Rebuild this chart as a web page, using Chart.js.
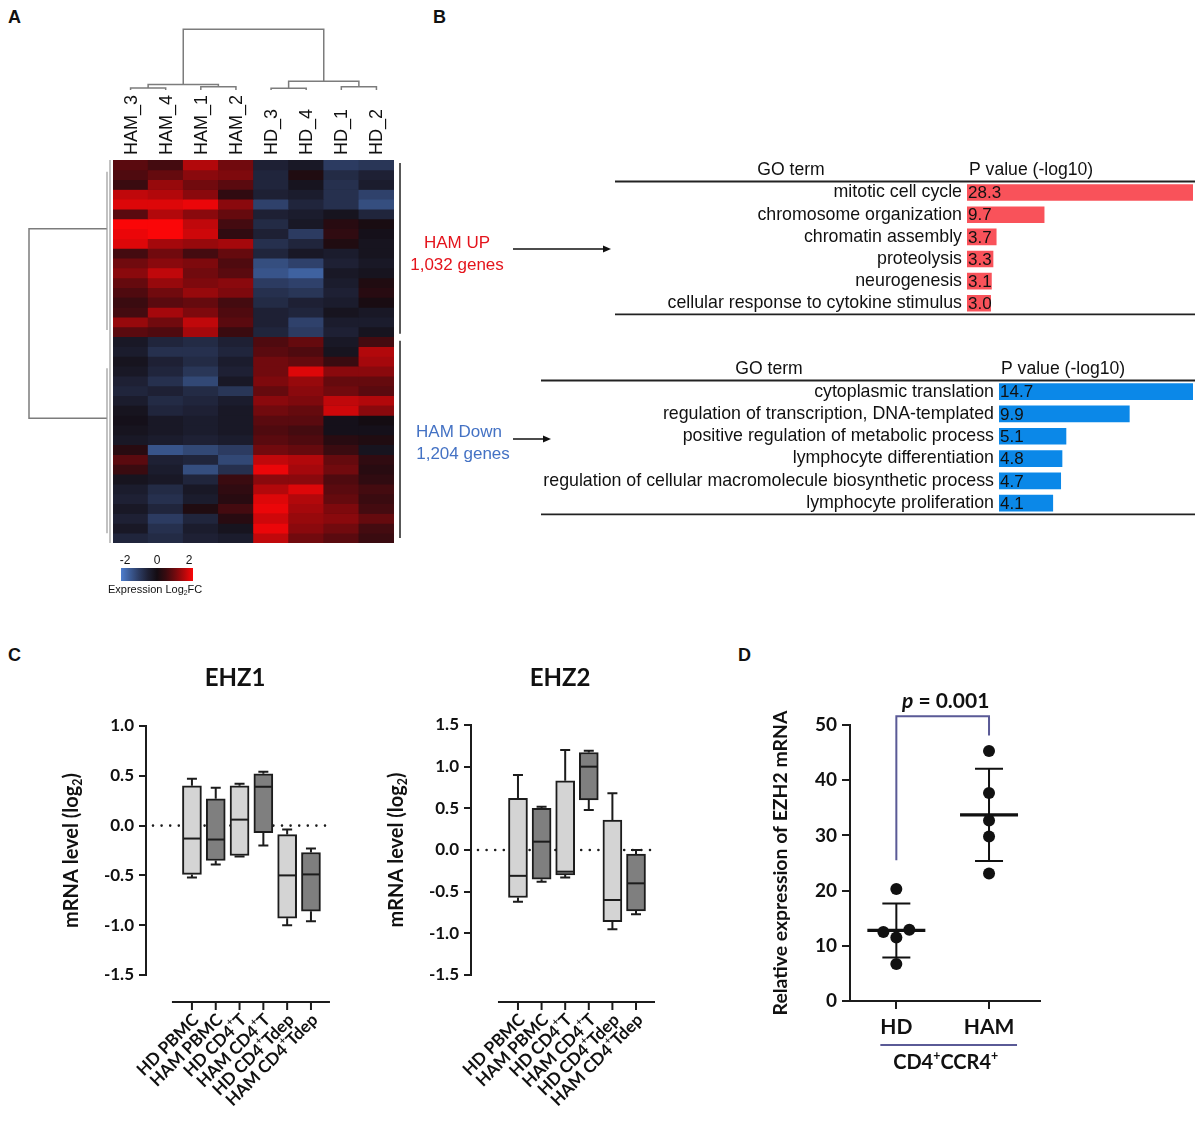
<!DOCTYPE html>
<html>
<head>
<meta charset="utf-8">
<script src="https://cdn.jsdelivr.net/npm/chart.js@4.4.1/dist/chart.umd.min.js"></script>
<style>
  body { margin: 0; background: #fff; width: 1200px; height: 1121px; position: relative; overflow: hidden; font-family: "Liberation Sans", Arial, sans-serif; }
  canvas { position: absolute; }
  .tag { position: absolute; font-weight: bold; font-size: 18px; line-height: 1; color: #111; }
</style>
</head>
<body>
<div class="tag" style="left:8px;top:8px">A</div>
<div class="tag" style="left:433px;top:8px">B</div>
<div class="tag" style="left:8px;top:646px">C</div>
<div class="tag" style="left:738px;top:646px">D</div>

<canvas id="heat" width="620" height="600" style="left:0;top:0"></canvas>
<canvas id="goUp" width="670" height="180" style="left:530px;top:150px"></canvas>
<canvas id="goDown" width="670" height="180" style="left:530px;top:350px"></canvas>
<canvas id="ezh1" width="350" height="480" style="left:0;top:640px"></canvas>
<canvas id="ezh2" width="360" height="480" style="left:330px;top:640px"></canvas>
<canvas id="dot" width="460" height="480" style="left:740px;top:640px"></canvas>

<script>
// ---- A: heatmap (log2FC, rows top to bottom) ----
const samples = ['HAM_3', 'HAM_4', 'HAM_1', 'HAM_2', 'HD_3', 'HD_4', 'HD_1', 'HD_2'];
const heatUp = [
  [0.8, 0.6, 1.5, 1.0, -0.5, -0.3, -1.0, -0.9],
  [0.7, 0.9, 1.2, 1.1, -0.6, 0.2, -0.7, -0.5],
  [0.5, 1.3, 1.0, 0.8, -0.6, -0.2, -0.8, -0.4],
  [1.6, 1.5, 1.2, 0.4, -0.5, -0.4, -0.8, -1.1],
  [1.8, 1.8, 1.9, 1.2, -1.1, -0.6, -0.8, -1.3],
  [0.8, 1.5, 1.2, 0.9, -0.5, -0.4, -0.2, -0.6],
  [2.0, 2.0, 1.6, 0.6, -0.7, -0.3, 0.3, 0.1],
  [1.9, 2.2, 1.7, 0.4, -0.5, -1.0, 0.4, -0.1],
  [1.8, 1.4, 1.3, 1.4, -0.8, -0.6, 0.2, -0.2],
  [0.6, 1.0, 0.6, 0.9, -0.6, -0.3, -0.4, -0.2],
  [1.0, 1.2, 1.1, 0.7, -1.3, -1.1, -0.5, -0.3],
  [1.2, 1.6, 1.0, 0.8, -1.4, -1.6, -0.3, -0.2],
  [0.9, 1.3, 1.1, 1.2, -1.0, -1.1, -0.4, 0.2],
  [0.7, 1.0, 1.3, 1.1, -0.8, -0.9, -0.5, 0.3],
  [0.5, 0.8, 0.9, 0.6, -0.7, -0.5, -0.4, 0.1],
  [0.6, 1.4, 1.1, 0.7, -0.5, -0.6, -0.2, -0.3],
  [1.3, 1.0, 1.6, 0.8, -0.5, -1.1, -0.4, -0.4],
  [0.8, 0.7, 1.4, 0.5, -0.6, -1.0, -0.5, -0.2]
];
const heatDown = [
  [-0.3, -0.6, -0.7, -0.5, 0.7, 0.9, -0.3, 0.6],
  [-0.4, -0.8, -0.8, -0.6, 0.8, 0.7, -0.2, 1.5],
  [-0.2, -0.5, -0.7, -0.4, 1.0, 0.9, 0.5, 1.4],
  [-0.3, -0.6, -0.9, -0.5, 1.0, 1.8, 1.2, 1.2],
  [-0.5, -0.8, -1.2, -0.3, 1.1, 1.3, 0.9, 0.9],
  [-0.6, -0.5, -0.7, -0.9, 0.9, 1.2, 1.0, 0.8],
  [-0.4, -0.7, -0.6, -0.4, 1.2, 1.1, 1.6, 1.5],
  [-0.2, -0.6, -0.5, -0.3, 1.0, 0.9, 1.7, 1.2],
  [-0.1, -0.3, -0.4, -0.3, 0.8, 0.8, -0.1, 0.0],
  [-0.2, -0.3, -0.4, -0.3, 0.7, 0.6, -0.1, -0.1],
  [-0.3, -0.4, -0.5, -0.4, 0.8, 0.7, 0.3, 0.2],
  [0.3, -1.4, -1.2, -1.0, 1.0, 0.9, 0.5, -0.2],
  [0.8, -0.5, -0.6, -1.2, 1.6, 1.5, 0.9, 0.4],
  [0.5, -0.4, -1.3, -0.8, 1.9, 1.4, 1.0, 0.3],
  [-0.2, -0.3, -0.6, 0.5, 1.2, 1.2, 0.7, 0.4],
  [-0.4, -0.7, -0.3, 0.4, 1.5, 1.8, 0.8, 0.6],
  [-0.5, -0.8, -0.4, 0.3, 1.8, 1.5, 0.9, 0.5],
  [-0.3, -0.6, 0.2, 0.6, 1.9, 1.4, 1.1, 0.6],
  [-0.5, -1.0, -0.6, 0.3, 1.7, 1.3, 1.2, 0.9],
  [-0.3, -0.8, -0.4, -0.2, 1.9, 1.2, 1.0, 0.6],
  [-0.6, -0.7, -0.5, -0.4, 1.6, 1.0, 0.8, 0.5]
];
const heat = heatUp.concat(heatDown);
const colPairH = [0.35, 0.55, 0.28, 0.55];   // HAM_3/4, HAM_1/2, HD_3/4, HD_1/2
const colGroupH = [0.95, 1.5];               // HAM, HD
const colRootH = 10.3;
const rowJoin = [7.0, 26.3];                 // row positions of the two row clusters
const colorTicks = [-2, 0, 2];

// ---- B: GO terms ----
const goUpTerms = ['mitotic cell cycle', 'chromosome organization', 'chromatin assembly', 'proteolysis', 'neurogenesis', 'cellular response to cytokine stimulus'];
const goUpP = [28.3, 9.7, 3.7, 3.3, 3.1, 3.0];
const goDownTerms = ['cytoplasmic translation', 'regulation of transcription, DNA-templated', 'positive regulation of metabolic process', 'lymphocyte differentiation', 'regulation of cellular macromolecule biosynthetic process', 'lymphocyte proliferation'];
const goDownP = [14.7, 9.9, 5.1, 4.8, 4.7, 4.1];

// ---- C: box plots (log2) ----
const boxLabels = ['HD PBMC', 'HAM PBMC', 'HD CD4⁺T', 'HAM CD4⁺T', 'HD CD4⁺Tdep', 'HAM CD4⁺Tdep'];
const ezh1Min = [-0.52, -0.39, -0.31, -0.20, -1.00, -0.96];
const ezh1Q1 = [-0.49, -0.35, -0.30, -0.07, -0.93, -0.86];
const ezh1Med = [-0.13, -0.14, 0.06, 0.39, -0.50, -0.49];
const ezh1Q3 = [0.40, 0.27, 0.40, 0.52, -0.09, -0.27];
const ezh1Max = [0.47, 0.38, 0.42, 0.54, -0.04, -0.23];
const ezh2Min = [-0.62, -0.38, -0.33, 0.48, -0.95, -0.77];
const ezh2Q1 = [-0.57, -0.35, -0.30, 0.60, -0.86, -0.73];
const ezh2Med = [-0.31, 0.10, -0.26, 1.00, -0.60, -0.40];
const ezh2Q3 = [0.62, 0.50, 0.83, 1.17, 0.36, -0.05];
const ezh2Max = [0.90, 0.52, 1.20, 1.19, 0.68, 0.00];

// ---- D: EZH2 in CD4+CCR4+ ----
const groups = ['HD', 'HAM'];
const hdVals = [20.3, 12.5, 12.9, 11.5, 6.7];
const hamVals = [45.3, 37.7, 32.7, 29.8, 23.1];

const ARIAL = '"Liberation Sans", Arial, sans-serif';
const BOLD = 'Lato, "Open Sans", sans-serif';
Chart.defaults.font.family = ARIAL;
Chart.defaults.color = '#111';

function heatColor(v) {
  const t = Math.pow(Math.min(1, Math.abs(v) / 2), 1.3);
  if (v >= 0) return `rgb(${Math.round(20 + 230 * t)},${Math.round(12 * (1 - t) + 6 * t)},${Math.round(18 * (1 - t) + 8 * t)})`;
  return `rgb(${Math.round(20 + 58 * t)},${Math.round(14 + 112 * t)},${Math.round(22 + 184 * t)})`;
}

// text with superscript / subscript pieces
function rich(ctx, parts, x, y, align, size, family, weight) {
  const f = p => `${p.i ? 'italic ' : ''}${weight} ${p.s ? size * 0.62 : size}px ${family}`;
  let w = 0;
  parts.forEach(p => { ctx.font = f(p); p.w = ctx.measureText(p.t).width; w += p.w; });
  let cx = align === 'center' ? x - w / 2 : align === 'right' ? x - w : x;
  ctx.textAlign = 'left';
  ctx.textBaseline = 'middle';
  parts.forEach(p => {
    ctx.font = f(p);
    ctx.fillText(p.t, cx, y + (p.s === 1 ? -size * 0.36 : p.s === -1 ? size * 0.3 : 0));
    cx += p.w;
  });
}
function supParts(str) {
  const out = [];
  str.split('⁺').forEach((seg, i) => {
    if (i > 0) out.push({ t: '+', s: 1 });
    if (seg) out.push({ t: seg });
  });
  return out;
}

const noUi = { legend: { display: false }, tooltip: { enabled: false } };

function render() {
  // ---------- A ----------
  const heatDeco = {
    id: 'heatDeco',
    beforeDatasetsDraw(chart) {
      const { ctx, chartArea: a } = chart;
      ctx.save();
      ctx.fillStyle = '#121018';
      ctx.fillRect(a.left, a.top, a.right - a.left, a.bottom - a.top);
      ctx.restore();
    },
    afterDraw(chart) {
      const { ctx, chartArea: a, scales: { x, y } } = chart;
      const lx = i => x.getPixelForValue(i);
      const base = a.top - 70;
      const hy = h => base - h * 5.9;
      ctx.save();
      ctx.strokeStyle = '#7c7c7c';
      ctx.lineWidth = 1.5;
      const link = (x1, y1, x2, y2, t) => {
        ctx.beginPath(); ctx.moveTo(x1, y1); ctx.lineTo(x1, t); ctx.lineTo(x2, t); ctx.lineTo(x2, y2); ctx.stroke();
      };
      const mids = [];
      colPairH.forEach((h, p) => {
        link(lx(2 * p), base, lx(2 * p + 1), base, hy(h));
        mids.push((lx(2 * p) + lx(2 * p + 1)) / 2);
      });
      const gm = [];
      colGroupH.forEach((h, g) => {
        link(mids[2 * g], hy(colPairH[2 * g]), mids[2 * g + 1], hy(colPairH[2 * g + 1]), hy(h));
        gm.push((mids[2 * g] + mids[2 * g + 1]) / 2);
      });
      link(gm[0], hy(colGroupH[0]), gm[1], hy(colGroupH[1]), hy(colRootH));

      // row dendrogram
      const rx = a.left - 6, root = a.left - 84;
      ctx.beginPath();
      ctx.moveTo(rx, y.getPixelForValue(rowJoin[0]));
      ctx.lineTo(root, y.getPixelForValue(rowJoin[0]));
      ctx.lineTo(root, y.getPixelForValue(rowJoin[1]));
      ctx.lineTo(rx, y.getPixelForValue(rowJoin[1]));
      ctx.stroke();
      ctx.lineWidth = 1.2;
      ctx.strokeStyle = '#999';
      [[1.2, 17.3], [21.2, 38.0]].forEach(([r0, r1]) => {
        ctx.beginPath(); ctx.moveTo(rx, y.getPixelForValue(r0)); ctx.lineTo(rx, y.getPixelForValue(r1)); ctx.stroke();
      });
      ctx.beginPath(); ctx.moveTo(a.left - 3, a.top); ctx.lineTo(a.left - 3, a.bottom); ctx.stroke();

      // column labels
      ctx.fillStyle = '#111';
      ctx.font = '18px ' + ARIAL;
      samples.forEach((s, i) => {
        ctx.save();
        ctx.translate(lx(i), a.top - 5);
        ctx.rotate(-Math.PI / 2);
        ctx.textAlign = 'left';
        ctx.textBaseline = 'middle';
        ctx.fillText(s, 0, 1);
        ctx.restore();
      });

      // brackets for the two gene sets
      const n = heat.length, up = heatUp.length;
      ctx.strokeStyle = '#222';
      ctx.lineWidth = 1.5;
      ctx.beginPath();
      ctx.moveTo(a.right + 6, y.getPixelForValue(0) + 3); ctx.lineTo(a.right + 6, y.getPixelForValue(up) - 3);
      ctx.moveTo(a.right + 6, y.getPixelForValue(up) + 4); ctx.lineTo(a.right + 6, y.getPixelForValue(n) - 5);
      ctx.stroke();

      // annotations + arrows
      ctx.font = '17px ' + ARIAL;
      ctx.textAlign = 'center';
      ctx.textBaseline = 'middle';
      ctx.fillStyle = '#e4141c';
      ctx.fillText('HAM UP', 457, 243);
      ctx.fillText('1,032 genes', 457, 265);
      ctx.fillStyle = '#4472c4';
      ctx.fillText('HAM Down', 459, 432);
      ctx.fillText('1,204 genes', 463, 454);
      const arrow = (x1, x2, yy) => {
        ctx.strokeStyle = '#111'; ctx.fillStyle = '#111'; ctx.lineWidth = 1.5;
        ctx.beginPath(); ctx.moveTo(x1, yy); ctx.lineTo(x2 - 6, yy); ctx.stroke();
        ctx.beginPath(); ctx.moveTo(x2, yy); ctx.lineTo(x2 - 8, yy - 3.5); ctx.lineTo(x2 - 8, yy + 3.5); ctx.closePath(); ctx.fill();
      };
      arrow(513, 611, 249);
      arrow(513, 551, 439);

      // colour key
      const cx0 = 121, cx1 = 193, cy = 568;
      const g = ctx.createLinearGradient(cx0, 0, cx1, 0);
      [-2, -1.5, -1, -0.5, 0, 0.5, 1, 1.5, 2].forEach(v => g.addColorStop((v + 2) / 4, heatColor(v)));
      ctx.fillStyle = g;
      ctx.fillRect(cx0, cy, cx1 - cx0, 13);
      ctx.fillStyle = '#111';
      ctx.font = '12px ' + ARIAL;
      colorTicks.forEach(v => ctx.fillText(String(v), cx0 + 4 + (v + 2) / 4 * (cx1 - cx0 - 8), 561));
      rich(ctx, [{ t: 'Expression Log' }, { t: '2', s: -1 }, { t: 'FC' }], 108, 590, 'left', 11, ARIAL, 'normal');
      ctx.restore();
    }
  };

  new Chart(document.getElementById('heat'), {
    type: 'bar',
    data: {
      labels: samples,
      datasets: heat.map((row, r) => ({
        data: row.map(() => [r, r + 1]),
        backgroundColor: row.map(heatColor),
        borderWidth: 0,
        barPercentage: 1,
        categoryPercentage: 1,
        grouped: false
      }))
    },
    options: {
      responsive: false, animation: false, events: [],
      plugins: noUi,
      layout: { padding: { left: 113, top: 160, right: 226, bottom: 57 } },
      scales: {
        x: { display: false },
        y: { display: false, min: 0, max: heat.length, reverse: true }
      }
    },
    plugins: [heatDeco]
  });

  // ---------- B ----------
  function goChart(id, terms, vals, color, spec) {
    const deco = {
      id: 'goDeco',
      afterDraw(chart) {
        const { ctx, chartArea: a, scales: { x, y } } = chart;
        ctx.save();
        ctx.fillStyle = '#111';
        ctx.font = '17.6px ' + ARIAL;
        ctx.textBaseline = 'middle';
        ctx.textAlign = 'center';
        ctx.fillText('GO term', spec.headX, a.top - 11);
        ctx.textAlign = 'left';
        ctx.fillText('P value (-log10)', a.left + 2, a.top - 11);
        ctx.font = '17px ' + ARIAL;
        vals.forEach((v, i) => ctx.fillText(v.toFixed(1), x.getPixelForValue(0) + 1, y.getPixelForValue(i) + 1));
        ctx.strokeStyle = '#222';
        ctx.lineWidth = 1.8;
        [a.top, a.bottom].forEach(yy => {
          ctx.beginPath(); ctx.moveTo(spec.lineX0, yy); ctx.lineTo(665, yy); ctx.stroke();
        });
        ctx.restore();
      }
    };
    new Chart(document.getElementById(id), {
      type: 'bar',
      data: { labels: terms, datasets: [{ data: vals, backgroundColor: color, barPercentage: 0.75, categoryPercentage: 1 }] },
      options: {
        indexAxis: 'y', responsive: false, animation: false, events: [],
        plugins: noUi,
        layout: { padding: { top: spec.top, bottom: 180 - spec.top - 140, right: 7, left: 0 } },
        scales: {
          x: { display: false, min: 0, max: Math.max(...vals) },
          y: {
            grid: { display: false, drawTicks: false }, border: { display: false },
            ticks: { color: '#111', font: { size: 17.8, family: ARIAL }, padding: 5, autoSkip: false },
            afterFit: s => { s.width = spec.axisW; }
          }
        }
      },
      plugins: [deco]
    });
  }
  goChart('goUp', goUpTerms, goUpP, '#f9525a', { top: 31.5, axisW: 437, headX: 261, lineX0: 85 });
  goChart('goDown', goDownTerms, goDownP, '#0b88e8', { top: 30.5, axisW: 469, headX: 239, lineX0: 11 });

  // ---------- C ----------
  function boxChart(id, spec) {
    const n = boxLabels.length;
    const deco = {
      id: 'boxDeco',
      beforeDatasetsDraw(chart) {
        const { ctx, chartArea: a, scales: { x, y } } = chart;
        ctx.save();
        ctx.strokeStyle = '#1c1c1c';
        ctx.lineWidth = 2.6;
        ctx.lineCap = 'round';
        ctx.setLineDash([0, 8.6]);
        ctx.beginPath();
        ctx.moveTo(a.left + 7, y.getPixelForValue(0));
        ctx.lineTo(x.getPixelForValue(n - 1) + 19, y.getPixelForValue(0));
        ctx.stroke();
        ctx.setLineDash([]);
        ctx.lineCap = 'butt';
        ctx.lineWidth = 2;
        spec.min.forEach((m, i) => {
          const px = x.getPixelForValue(i);
          [[spec.q1[i], m], [spec.q3[i], spec.max[i]]].forEach(([from, to]) => {
            ctx.beginPath();
            ctx.moveTo(px, y.getPixelForValue(from)); ctx.lineTo(px, y.getPixelForValue(to));
            ctx.moveTo(px - 5, y.getPixelForValue(to)); ctx.lineTo(px + 5, y.getPixelForValue(to));
            ctx.stroke();
          });
        });
        ctx.restore();
      },
      afterDatasetsDraw(chart) {
        const { ctx, scales: { x, y } } = chart;
        ctx.save();
        ctx.strokeStyle = '#1c1c1c';
        ctx.lineWidth = 2;
        spec.med.forEach((m, i) => {
          const px = x.getPixelForValue(i);
          ctx.beginPath(); ctx.moveTo(px - 8.5, y.getPixelForValue(m)); ctx.lineTo(px + 8.5, y.getPixelForValue(m)); ctx.stroke();
        });
        ctx.restore();
      },
      afterDraw(chart) {
        const { ctx, chartArea: a, scales: { x } } = chart;
        const ay = a.bottom + 27;
        ctx.save();
        ctx.strokeStyle = '#1c1c1c';
        ctx.lineWidth = 2;
        ctx.beginPath();
        ctx.moveTo(x.getPixelForValue(0) - 20, ay); ctx.lineTo(x.getPixelForValue(n - 1) + 19, ay);
        boxLabels.forEach((l, i) => { const px = x.getPixelForValue(i); ctx.moveTo(px, ay); ctx.lineTo(px, ay + 8); });
        ctx.stroke();
        ctx.fillStyle = '#111';
        boxLabels.forEach((l, i) => {
          ctx.save();
          ctx.translate(x.getPixelForValue(i) + 4, ay + 15);
          ctx.rotate(-Math.PI / 4);
          rich(ctx, supParts(l), 0, 0, 'right', 17, BOLD, 'bold');
          ctx.restore();
        });
        ctx.font = 'bold 24px ' + BOLD;
        ctx.textAlign = 'center';
        ctx.textBaseline = 'middle';
        ctx.fillText(spec.title, a.left + 89, 38);
        ctx.save();
        ctx.translate(a.left - 74, (a.top + a.bottom) / 2);
        ctx.rotate(-Math.PI / 2);
        rich(ctx, [{ t: 'mRNA level (log' }, { t: '2', s: -1 }, { t: ')' }], 0, 0, 'center', 20, BOLD, 'bold');
        ctx.restore();
        ctx.restore();
      }
    };
    new Chart(document.getElementById(id), {
      type: 'bar',
      data: {
        datasets: [{
          data: spec.q1.map((v, i) => ({ x: i, y: [v, spec.q3[i]] })),
          backgroundColor: spec.q1.map((v, i) => (i % 2 ? '#7f7f7f' : '#d4d4d4')),
          borderColor: '#1c1c1c', borderWidth: 2, borderSkipped: false, barThickness: 19
        }]
      },
      options: {
        responsive: false, animation: false, events: [],
        plugins: noUi,
        layout: { padding: { top: spec.top, bottom: 145, right: spec.right, left: 0 } },
        scales: {
          x: { type: 'linear', display: false, offset: false, bounds: 'data', min: spec.xmin, max: spec.xmax, grid: { offset: false } },
          y: {
            min: spec.ymin, max: spec.ymax,
            ticks: { stepSize: 0.5, callback: v => v.toFixed(1), color: '#111', font: { family: BOLD, weight: 'bold', size: 17 }, padding: 5 },
            grid: { drawOnChartArea: false, tickLength: 7, color: '#1c1c1c', lineWidth: 2 },
            border: { color: '#1c1c1c', width: 2 },
            afterFit: s => { s.width = spec.axisW; }
          }
        }
      },
      plugins: [deco]
    });
  }
  boxChart('ezh1', { title: 'EHZ1', min: ezh1Min, q1: ezh1Q1, med: ezh1Med, q3: ezh1Q3, max: ezh1Max,
    ymin: -1.5, ymax: 1.0, top: 86, right: 10, axisW: 146, xmin: -1.93, xmax: 6.22 });
  boxChart('ezh2', { title: 'EHZ2', min: ezh2Min, q1: ezh2Q1, med: ezh2Med, q3: ezh2Q3, max: ezh2Max,
    ymin: -1.5, ymax: 1.5, top: 85, right: 20, axisW: 141, xmin: -1.99, xmax: 6.44 });

  // ---------- D ----------
  const mean = v => v.reduce((s, x) => s + x, 0) / v.length;
  const sd = v => { const m = mean(v); return Math.sqrt(v.reduce((s, x) => s + (x - m) * (x - m), 0) / (v.length - 1)); };
  // spread dots that would overlap (simple swarm)
  function swarm(vals, g) {
    const order = vals.map((v, i) => i).sort((a, b) => vals[a] - vals[b]);
    const off = new Array(vals.length).fill(0);
    const steps = [0, -1, 1, -2, 2];
    let start = null, k = 0;
    order.forEach(i => {
      if (start === null || vals[i] - start > 2.2) { start = vals[i]; k = 0; } else k++;
      off[i] = steps[k] * 0.14;
    });
    return vals.map((v, i) => ({ x: g + off[i], y: v }));
  }
  const dotDeco = {
    id: 'dotDeco',
    beforeDatasetsDraw(chart) {
      const { ctx, scales: { x, y } } = chart;
      ctx.save();
      ctx.strokeStyle = '#111';
      [hdVals, hamVals].forEach((vals, g) => {
        const m = mean(vals), s = sd(vals), px = x.getPixelForValue(g);
        ctx.lineWidth = 2;
        ctx.beginPath();
        ctx.moveTo(px, y.getPixelForValue(m - s)); ctx.lineTo(px, y.getPixelForValue(m + s));
        [m - s, m + s].forEach(v => { ctx.moveTo(px - 14, y.getPixelForValue(v)); ctx.lineTo(px + 14, y.getPixelForValue(v)); });
        ctx.stroke();
        ctx.lineWidth = 3.2;
        ctx.beginPath(); ctx.moveTo(px - 29, y.getPixelForValue(m)); ctx.lineTo(px + 29, y.getPixelForValue(m)); ctx.stroke();
      });
      ctx.restore();
    },
    afterDraw(chart) {
      const { ctx, chartArea: a, scales: { x, y } } = chart;
      const x0 = x.getPixelForValue(0), x1 = x.getPixelForValue(1);
      ctx.save();
      ctx.strokeStyle = '#5a5a96';
      ctx.lineWidth = 2;
      ctx.beginPath();
      ctx.moveTo(x0, y.getPixelForValue(25.5)); ctx.lineTo(x0, y.getPixelForValue(51.6));
      ctx.lineTo(x1, y.getPixelForValue(51.6)); ctx.lineTo(x1, y.getPixelForValue(48.1));
      ctx.stroke();
      ctx.fillStyle = '#111';
      rich(ctx, [{ t: 'p', i: true }, { t: ' = 0.001' }], (x0 + x1) / 2 + 3, 61, 'center', 21, BOLD, 'bold');
      ctx.beginPath(); ctx.moveTo(x0 - 16, a.bottom + 44); ctx.lineTo(x1 + 28, a.bottom + 44); ctx.stroke();
      rich(ctx, [{ t: 'CD4' }, { t: '+', s: 1 }, { t: 'CCR4' }, { t: '+', s: 1 }], (x0 + x1) / 2 + 3, a.bottom + 62, 'center', 20, BOLD, 'bold');
      ctx.save();
      ctx.translate(a.left - 69, (a.top + a.bottom) / 2);
      ctx.rotate(-Math.PI / 2);
      rich(ctx, [{ t: 'Relative expression of EZH2 mRNA' }], 0, 0, 'center', 19.4, BOLD, 'bold');
      ctx.restore();
      ctx.restore();
    }
  };
  new Chart(document.getElementById('dot'), {
    type: 'scatter',
    data: {
      datasets: [hdVals, hamVals].map((vals, g) => ({
        data: swarm(vals, g), pointRadius: 6, backgroundColor: '#111', borderWidth: 0
      }))
    },
    options: {
      responsive: false, animation: false, events: [],
      plugins: noUi,
      layout: { padding: { top: 85, bottom: 85, right: 160, left: 0 } },
      scales: {
        x: {
          type: 'linear', min: -0.5, max: 1.55,
          afterBuildTicks: s => { s.ticks = groups.map((g, i) => ({ value: i })); },
          ticks: { callback: (v, i) => groups[i], color: '#111', font: { family: BOLD, weight: 'bold', size: 21 }, padding: 6 },
          grid: { drawOnChartArea: false, tickLength: 8, color: '#1c1c1c', lineWidth: 2 },
          border: { color: '#1c1c1c', width: 2 },
          afterFit: s => { s.height = 34; }
        },
        y: {
          min: 0, max: 50,
          ticks: { stepSize: 10, color: '#111', font: { family: BOLD, weight: 'bold', size: 19 }, padding: 5 },
          grid: { drawOnChartArea: false, tickLength: 8, color: '#1c1c1c', lineWidth: 2 },
          border: { color: '#1c1c1c', width: 2 },
          afterFit: s => { s.width = 110; }
        }
      }
    },
    plugins: [dotDeco]
  });
}

Promise.all([
  document.fonts.load('bold 16px Lato'),
  document.fonts.load('italic bold 16px Lato'),
  document.fonts.load('16px "Liberation Sans"')
]).then(render, render);
</script>
</body>
</html>
